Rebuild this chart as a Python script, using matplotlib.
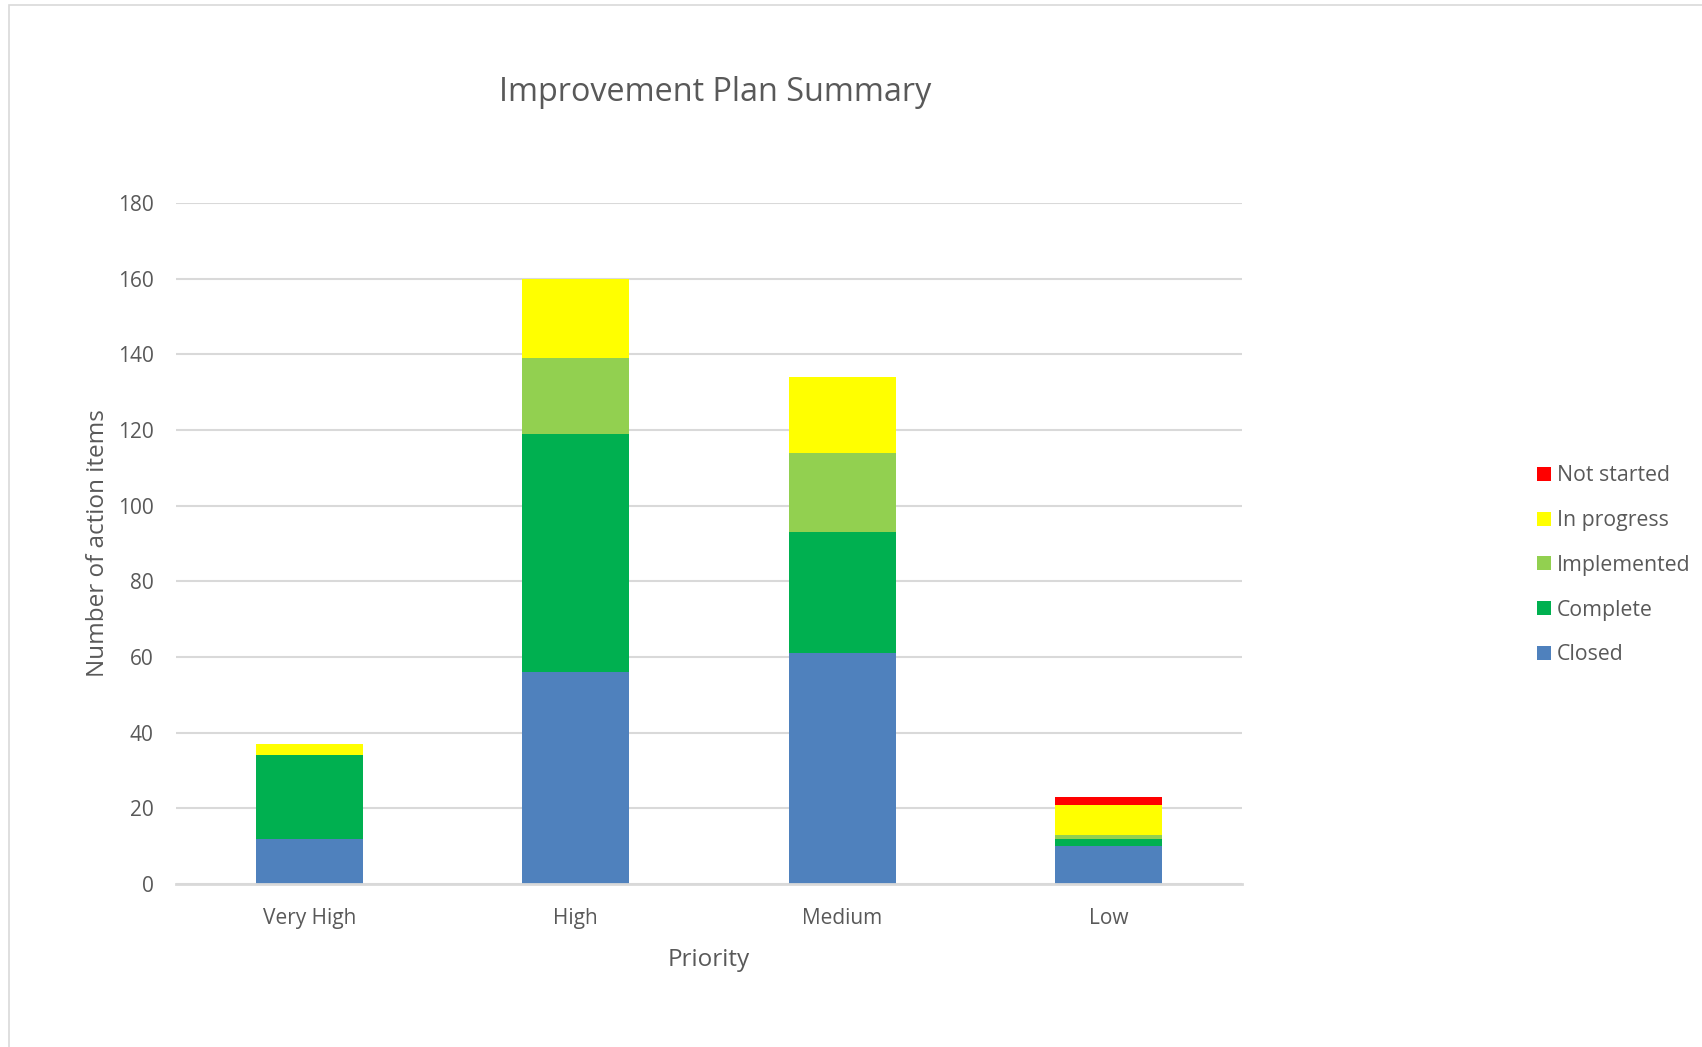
import matplotlib
matplotlib.use("Agg")
from matplotlib import pyplot as plt
from matplotlib.patches import Rectangle
import numpy as np

plt.rcParams['font.family'] = ['Open Sans', 'DejaVu Sans']

# Chart data
priorities = ['Very High', 'High', 'Medium', 'Low']
closed = [12, 56, 61, 10]
complete = [22, 63, 32, 2]
implemented = [0, 20, 21, 1]
in_progress = [3, 21, 20, 8]
not_started = [0, 0, 0, 2]

series = [('Closed', closed, '#4f81bd'),
          ('Complete', complete, '#00b050'),
          ('Implemented', implemented, '#92d050'),
          ('In progress', in_progress, '#ffff00'),
          ('Not started', not_started, '#ff0000')]

text_col = '#595959'
grid_col = '#d9d9d9'

fig = plt.figure(figsize=(17.02, 10.47), dpi=100)
fig.patches.append(Rectangle((9 / 1702, -0.01), 1.0, (1047 - 5) / 1047 + 0.01,
                             transform=fig.transFigure, fill=False,
                             edgecolor=grid_col, linewidth=1.2))
ax = fig.add_axes([0.1034, 0.1557, 0.6263, 0.6504])

x = np.arange(len(priorities))
bottom = np.zeros(len(priorities))
handles = []
for name, vals, col in series:
    b = ax.bar(x, vals, 0.4, bottom=bottom, color=col, label=name, zorder=3)
    handles.append(b)
    bottom += np.array(vals)

ax.set_xlim(-0.5, 3.5)
ax.set_ylim(0, 180)
ax.set_yticks(range(0, 181, 20))
ax.set_xticks(x)
ax.set_xticklabels(priorities)
ax.yaxis.grid(True, color=grid_col, linewidth=1.5, zorder=0)
for s in ['top', 'right', 'left']:
    ax.spines[s].set_visible(False)
ax.spines['bottom'].set_color(grid_col)
ax.spines['bottom'].set_linewidth(2)
ax.spines['bottom'].set_zorder(4)
ax.tick_params(axis='both', length=0, labelsize=15, labelcolor=text_col)
ax.tick_params(axis='y', pad=16)
ax.tick_params(axis='x', pad=17)

ax.set_xlabel('Priority', fontsize=17.5, color=text_col, labelpad=14)
ax.set_ylabel('Number of action items', fontsize=17.5, color=text_col, labelpad=6)
fig.text(0.42, 0.912, 'Improvement Plan Summary', fontsize=23.3, color=text_col,
         ha='center', va='center')

leg = fig.legend(handles[::-1], [s[0] for s in series][::-1],
                 loc='center left', bbox_to_anchor=(0.892, 0.460),
                 frameon=False, fontsize=15.3, labelcolor=text_col,
                 handlelength=0.63, handleheight=0.63, handletextpad=0.3,
                 labelspacing=1.12)

fig.savefig('out.png', dpi=100)
